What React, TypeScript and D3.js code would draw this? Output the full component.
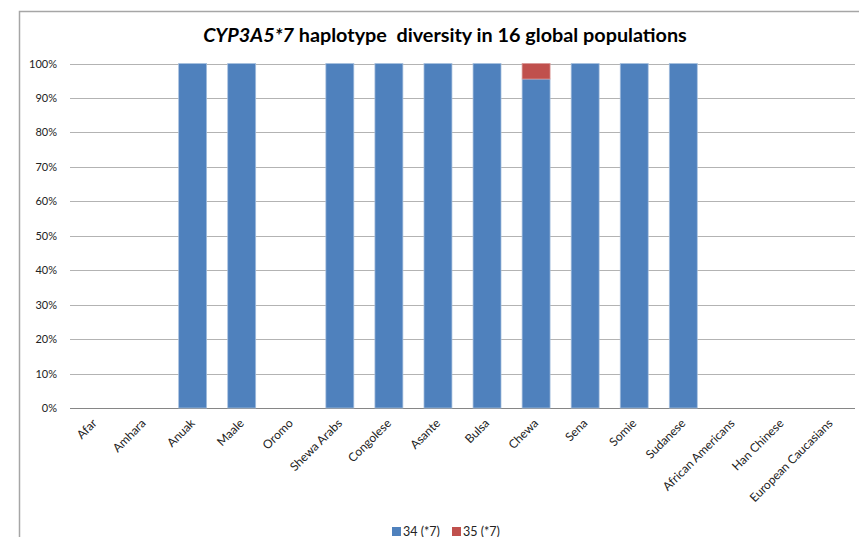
import React from "react";
import * as d3 from "d3";

const categories = ["Afar", "Amhara", "Anuak", "Maale", "Oromo", "Shewa Arabs", "Congolese", "Asante", "Bulsa", "Chewa", "Sena", "Somie", "Sudanese", "African Americans", "Han Chinese", "European Caucasians"];
const series34 = [0, 0, 1, 1, 0, 1, 1, 1, 1, 0.955, 1, 1, 1, 0, 0, 0];
const series35 = [0, 0, 0, 0, 0, 0, 0, 0, 0, 0.045, 0, 0, 0, 0, 0, 0];
const seriesNames = ["34 (*7)", "35 (*7)"];
const yTicks = [0, 0.1, 0.2, 0.3, 0.4, 0.5, 0.6, 0.7, 0.8, 0.9, 1];

const W = 867, H = 545;
const left = 70, right = 855, top = 63.5, bottom = 408;
const colors = ["#4F81BD", "#C0504D"];
const font = "Lato, 'Open Sans', sans-serif";

export default function App() {
  const x = d3.scaleBand().domain(categories).range([left, right]).paddingInner(0.43).paddingOuter(0.215);
  const y = d3.scaleLinear().domain([0, 1]).range([bottom, top]);
  const stack = d3.stack<any>().keys(["s34", "s35"]);
  const rows = categories.map((c, i) => ({ cat: c, s34: series34[i], s35: series35[i] }));
  const layers = stack(rows);
  return (
    <div style={{ margin: -8 }}>
      <svg width={W} height={H} style={{ display: "block", background: "#fff" }}>
        <path d={`M19.5,${H} V11.5 H${W}`} fill="none" stroke="#a6a6a6" strokeWidth={1.5} />
        <text x={445} y={42} textAnchor="middle" fontFamily={font} fontWeight="bold" fontSize={19.8} fill="#000" style={{ whiteSpace: "pre" }}>
          <tspan fontStyle="italic">CYP3A5*7</tspan>
          <tspan>{" haplotype  diversity in 16 global populations"}</tspan>
        </text>
        {yTicks.map((t) => (
          <g key={t}>
            <line x1={left} x2={right} y1={Math.round(y(t)) + 0.5} y2={Math.round(y(t)) + 0.5} stroke={t === 0 ? "#868686" : "#b3b3b3"} strokeWidth={1} />
            <text x={57} y={y(t) + 4} textAnchor="end" fontFamily={font} fontSize={11} fill="#222">
              {d3.format(".0%")(t)}
            </text>
          </g>
        ))}
        {layers.map((layer, li) => (
          <g key={li}>
            {layer.map((d, i) =>
              d[1] - d[0] > 0 ? (
                <rect key={i} x={x(categories[i])!} y={y(d[1])} width={x.bandwidth()} height={y(d[0]) - y(d[1])}
                  fill={colors[li]} stroke={li === 0 ? "#a7c0de" : "#d99795"} strokeWidth={0.75} />
              ) : null
            )}
          </g>
        ))}
        {categories.map((c) => {
          const cx = (x(c) as number) + x.bandwidth() / 2 + 3;
          return (
            <text key={c} transform={`translate(${cx},${bottom + 16}) rotate(-45)`} textAnchor="end" fontFamily={font} fontSize={12} fill="#222">
              {c}
            </text>
          );
        })}
        {seriesNames.map((n, i) => (
          <g key={n} transform={`translate(${392 + i * 60},527)`}>
            <rect x={0} y={0} width={9} height={9} fill={colors[i]} />
            <text x={11} y={9} fontFamily={font} fontSize={12.5} fill="#222">{n}</text>
          </g>
        ))}
      </svg>
    </div>
  );
}
